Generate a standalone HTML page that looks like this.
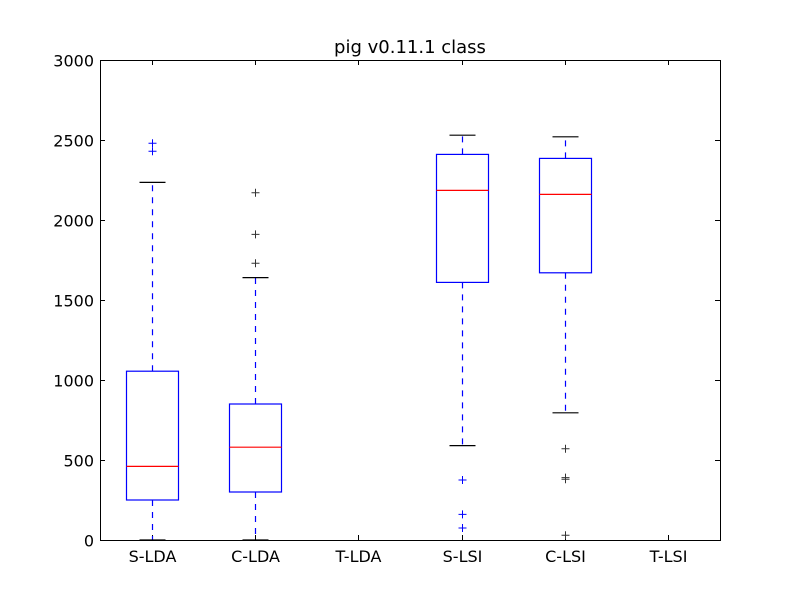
<!DOCTYPE html>
<html><head><meta charset="utf-8"><style>
body{margin:0;background:#fff}
svg text{font-family:"DejaVu Sans","Liberation Sans",sans-serif}
</style></head><body>
<svg id="chart" width="800" height="600" xmlns="http://www.w3.org/2000/svg">
<rect width="800" height="600" fill="#fff"/>
<text x="410" y="53" font-size="18" text-anchor="middle">pig v0.11.1 class</text>
<g id="plot"></g>
<rect x="100.5" y="60.5" width="620" height="480" fill="none" stroke="#000" stroke-width="1"/>
</svg>
<script>
const categories=["S-LDA","C-LDA","T-LDA","S-LSI","C-LSI","T-LSI"];
const whiskerLow=[0,0,null,590,795,null];
const q1=[250,300,null,1610,1670,null];
const medians=[460,580,null,2185,2160,null];
const q3=[1055,850,null,2410,2385,null];
const whiskerHigh=[2235,1640,null,2530,2520,null];
const fliers=[[2430,2480],[1730,1910,2170],[],[75,160,375],[30,380,390,570],[]];
const flierColors=["#0000ff","#333","#000","#0000ff","#333","#000"];
const yTicks=[0,500,1000,1500,2000,2500,3000];
const L=100,R=720,T=60,B=540,YMAX=3000;
const ns="http://www.w3.org/2000/svg";
const g=document.getElementById("plot");
const svg=document.getElementById("chart");
const y=v=>B-(v/YMAX)*(B-T);
const x=i=>L+(i+0.5)*(R-L)/categories.length;
function mk(tag,attrs,parent){const e=document.createElementNS(ns,tag);for(const k in attrs)e.setAttribute(k,attrs[k]);(parent||g).appendChild(e);return e;}
yTicks.forEach(t=>{
  const yy=y(t)+0.5;
  const a=mk("line",{x1:L,x2:L+5,y1:yy,y2:yy,stroke:"#000"});
  
  
  mk("line",{x1:R-5,x2:R,y1:yy,y2:yy,stroke:"#000"});
  const tx=mk("text",{x:L-6,y:yy+6,"font-size":"16","text-anchor":"end"},svg);
  tx.textContent=t;
  
  
});
categories.forEach((c,i)=>{
  const cx=Math.round(x(i))+0.5;
  mk("line",{x1:cx,x2:cx,y1:B,y2:B-5,stroke:"#000"});
  mk("line",{x1:cx,x2:cx,y1:T,y2:T+5,stroke:"#000"});
  const tx=mk("text",{x:cx,y:B+22,"font-size":"16","text-anchor":"middle"},svg);
  tx.textContent=c;
  
  
  if(q1[i]==null)return;
  const bg=mk("g",{});
  
  
  const hw=26,cw=13;
  mk("line",{x1:cx,x2:cx,y1:y(q1[i]),y2:y(whiskerLow[i]),stroke:"#0000ff","stroke-width":"1.2","stroke-dasharray":"6,6"},bg);
  mk("line",{x1:cx,x2:cx,y1:y(q3[i]),y2:y(whiskerHigh[i]),stroke:"#0000ff","stroke-width":"1.2","stroke-dasharray":"6,6"},bg);
  mk("line",{x1:cx-cw,x2:cx+cw,y1:y(whiskerLow[i]),y2:y(whiskerLow[i]),stroke:"#000","stroke-width":"1.2"},bg);
  mk("line",{x1:cx-cw,x2:cx+cw,y1:y(whiskerHigh[i]),y2:y(whiskerHigh[i]),stroke:"#000","stroke-width":"1.2"},bg);
  mk("rect",{x:cx-hw,y:y(q3[i]),width:2*hw,height:y(q1[i])-y(q3[i]),fill:"none",stroke:"#0000ff","stroke-width":"1.2"},bg);
  mk("line",{x1:cx-hw,x2:cx+hw,y1:y(medians[i]),y2:y(medians[i]),stroke:"#ff0000","stroke-width":"1.2"},bg);
  fliers[i].forEach(f=>{
    const fy=y(f);
    mk("path",{d:`M${cx-4} ${fy}H${cx+4}M${cx} ${fy-4}V${fy+4}`,stroke:flierColors[i],fill:"none"},bg);
  });
});
</script>
</body></html>
